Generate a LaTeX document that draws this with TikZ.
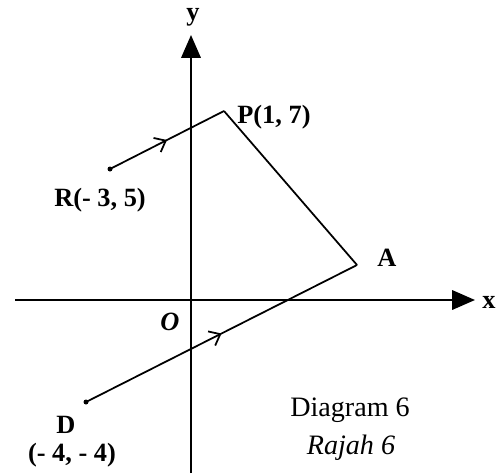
\documentclass[tikz,border=0pt]{standalone}
\usepackage{fontspec}
\setmainfont{Liberation Serif}
\usetikzlibrary{arrows.meta, decorations.markings, positioning}

\begin{document}
\begin{tikzpicture}[x=0.02cm, y=-0.02cm,
  axis/.style={line width=1.3pt, -{Triangle[length=13pt, width=11pt]}},
  seg/.style={line width=1pt},
  midarrow/.style={postaction={decorate},
    decoration={markings, mark=at position 0.5 with {\arrow{Straight Barb[length=5.5pt, width=9pt]}}}},
  lbl/.style={font=\bfseries\fontsize{15}{18}\selectfont, inner sep=0pt},
  captext/.style={font=\fontsize{16}{19}\selectfont, inner sep=0pt}]
\useasboundingbox (0,0) rectangle (499,473);
% axes
\coordinate (xs) at (15,300);
\coordinate (xe) at (475,300);
\coordinate (ys) at (191,473);
\coordinate (ye) at (191,35);
\draw [axis] (xs) -- (xe);
\draw [axis] (ys) -- (ye);
\node [lbl] (ylab) at (193,17)  {y};
\node [lbl] (xlab) at (489,302) {x};
\node [lbl, font=\bfseries\itshape\fontsize{15}{18}\selectfont] (olab) at (170,322) {O};
% points
\coordinate (R) at (110,169);
\coordinate (P) at (224,111);
\coordinate (A) at (357,265);
\coordinate (D) at (86,402);
\fill (R) circle (2.5);
\fill (D) circle (2.5);
\draw [seg, midarrow] (R) -- (P);
\draw [seg] (P) -- (A);
\draw [seg, midarrow] (D) -- (A);
% labels
\begin{scope}[every node/.style={lbl}]
\node [anchor=west] (plab) at (237,117) {P(1, 7)};
\node (rlab) at (100,200) {R(- 3, 5)};
\node (alab) at (387,258) {A};
\node (dlab) at (66,425) {D};
\node (dcoord) at (72,455) {(- 4, - 4)};
\end{scope}
\node [captext] (diag) at (350,410) {Diagram 6};
\node [captext, font=\itshape\fontsize{16}{19}\selectfont] (rajah) at (351,448) {Rajah 6};
\end{tikzpicture}
\end{document}
